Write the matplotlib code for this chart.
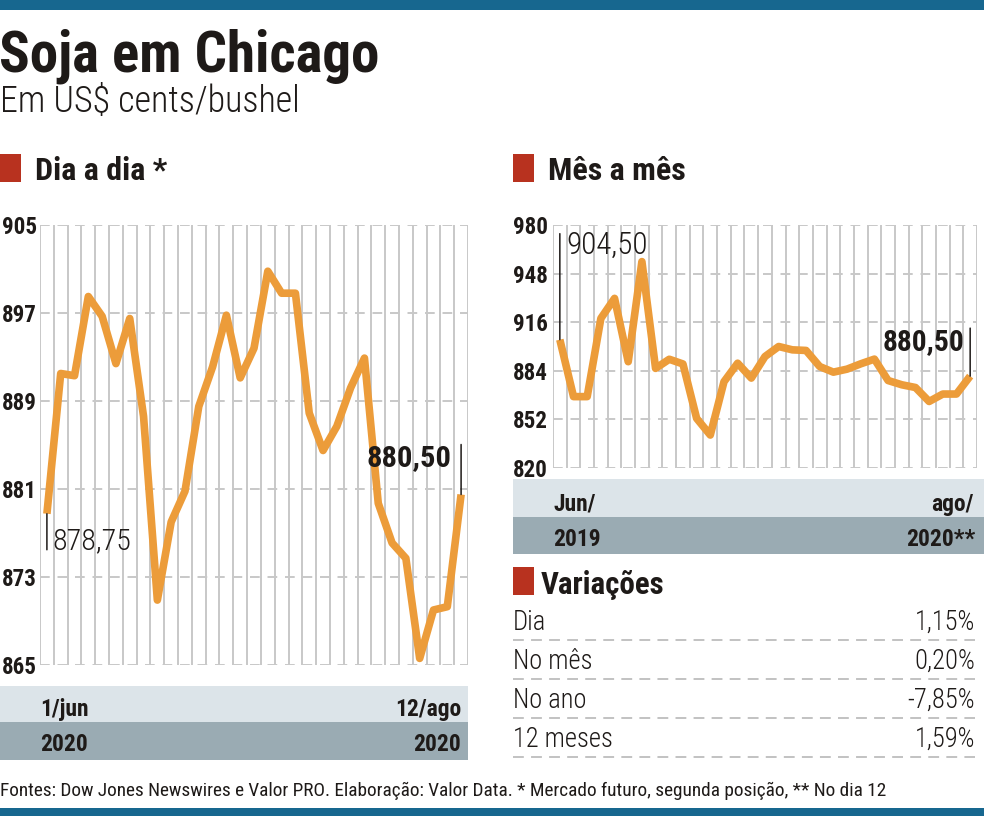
import os
import matplotlib
matplotlib.use("Agg")
import matplotlib.pyplot as plt
from matplotlib import font_manager as fm
from matplotlib.patches import Rectangle

# data
dia_a_dia = [878.75, 891.5, 891.3, 898.5, 896.7, 892.4, 896.5, 887.6, 870.9, 878.0,
             880.8, 888.5, 892.1, 896.8, 891.1, 893.8, 900.8, 898.8, 898.8, 887.9,
             884.5, 886.7, 890.2, 892.9, 879.7, 876.1, 874.7, 865.6, 870.0, 870.3,
             880.5]
mes_a_mes = [904.5, 867.0, 867.0, 918.5, 931.7, 890.0, 955.9, 885.6, 891.6, 888.5,
             852.7, 841.7, 876.8, 889.0, 879.2, 893.4, 900.0, 897.8, 897.4, 886.8,
             883.1, 885.1, 888.6, 891.7, 877.6, 874.8, 873.0, 863.8, 868.7, 868.7,
             880.5]
dia_ticks = [865, 873, 881, 889, 897, 905]
mes_ticks = [820, 852, 884, 916, 948, 980]
dia_band = ["1/jun", "12/ago", "2020", "2020"]
mes_band = ["Jun/", "ago/", "2019", "2020**"]
var_labels = ["Dia", "No mês", "No ano", "12 meses"]
var_values = ["1,15%", "0,20%", "-7,85%", "1,59%"]

W, H = 984, 816
ORANGE = "#ec9c3a"
GRID = "#c8c8c8"
TXT = "#1e1a18"
RED = "#b8321f"
BLUE = "#17678f"
LIGHT = "#dce4e9"
DARK = "#9aabb3"


# ---- fonts: look for a condensed family, fall back to Roboto
def _w(x):
    names = {'ultralight': 200, 'light': 300, 'normal': 400, 'regular': 400, 'book': 400,
             'medium': 500, 'semibold': 600, 'demibold': 600, 'bold': 700,
             'heavy': 800, 'extra bold': 800, 'black': 900}
    if isinstance(x, (int, float)):
        return int(x)
    return names.get(str(x).lower(), 400)


cond = []
for f in fm.fontManager.ttflist:
    base = os.path.basename(f.fname).lower().replace('-', '').replace('_', '')
    if f.style != 'normal':
        continue
    if any(k in base for k in ('semi', 'extra', 'ultra', 'mono', 'italic', 'oblique', 'display')):
        continue
    if 'condensed' in base or 'narrow' in base:
        cond.append((base, f))

prefer = ['robotocondensed', 'notosans', 'opensans', 'liberationsansnarrow', 'dejavusans']


def pick(weight):
    for p in prefer:
        fs = [f for b, f in cond if b.startswith(p)]
        if fs:
            best = min(fs, key=lambda f: abs(_w(f.weight) - weight))
            return fm.FontProperties(fname=best.fname)
    return fm.FontProperties(family=['Roboto', 'DejaVu Sans'], weight=weight)


F_LIGHT = pick(300)
F_REG = pick(400)
F_BOLD = pick(700)
F_BLACK = pick(900)


def pt(px):
    return px * 0.72


fig = plt.figure(figsize=(W / 100, H / 100), dpi=100)
fig.patch.set_facecolor("white")

# background layer in pixel coordinates
bg = fig.add_axes([0, 0, 1, 1])
bg.set_xlim(0, W)
bg.set_ylim(H, 0)
bg.axis("off")

bg.add_patch(Rectangle((0, 0), W, 10, color=BLUE, lw=0))
bg.add_patch(Rectangle((0, 808), W, 8, color=BLUE, lw=0))

bg.text(-1, 72, "Soja em Chicago", fontproperties=F_BLACK, fontsize=pt(57), color=TXT, va="baseline")
bg.text(0, 112, "Em US$ cents/bushel", fontproperties=F_LIGHT, fontsize=pt(36), color=TXT, va="baseline")

# section headers
bg.add_patch(Rectangle((0, 154), 21, 28, color=RED, lw=0))
bg.text(35, 180, "Dia a dia *", fontproperties=F_BOLD, fontsize=pt(32), color=TXT, va="baseline")
bg.add_patch(Rectangle((513, 154), 21, 28, color=RED, lw=0))
bg.text(548, 180, "Mês a mês", fontproperties=F_BOLD, fontsize=pt(32), color=TXT, va="baseline")

# date bands
bg.add_patch(Rectangle((0, 686), 468, 36, color=LIGHT, lw=0))
bg.add_patch(Rectangle((0, 722), 468, 38, color=DARK, lw=0))
bg.text(40, 716, dia_band[0], fontproperties=F_BOLD, fontsize=pt(23.5), color=TXT, va="baseline")
bg.text(461, 716, dia_band[1], fontproperties=F_BOLD, fontsize=pt(23.5), color=TXT, va="baseline", ha="right")
bg.text(40, 751, dia_band[2], fontproperties=F_BOLD, fontsize=pt(23.5), color=TXT, va="baseline")
bg.text(461, 751, dia_band[3], fontproperties=F_BOLD, fontsize=pt(23.5), color=TXT, va="baseline", ha="right")

bg.add_patch(Rectangle((513, 479), W - 513, 38, color=LIGHT, lw=0))
bg.add_patch(Rectangle((513, 517), W - 513, 37, color=DARK, lw=0))
bg.text(553, 511, mes_band[0], fontproperties=F_BOLD, fontsize=pt(23.5), color=TXT, va="baseline")
bg.text(973, 511, mes_band[1], fontproperties=F_BOLD, fontsize=pt(23.5), color=TXT, va="baseline", ha="right")
bg.text(553, 546, mes_band[2], fontproperties=F_BOLD, fontsize=pt(23.5), color=TXT, va="baseline")
bg.text(975, 546, mes_band[3], fontproperties=F_BOLD, fontsize=pt(23.5), color=TXT, va="baseline", ha="right")

# variações table
bg.add_patch(Rectangle((513, 567), 21, 28, color=RED, lw=0))
bg.text(541, 594, "Variações", fontproperties=F_BOLD, fontsize=pt(31), color=TXT, va="baseline")
row_y = 630
for lab, val in zip(var_labels, var_values):
    bg.text(513, row_y, lab, fontproperties=F_LIGHT, fontsize=pt(26.5), color=TXT, va="baseline")
    bg.text(975, row_y, val, fontproperties=F_LIGHT, fontsize=pt(26.5), color=TXT, va="baseline", ha="right")
    bg.plot([513, 975], [row_y + 10, row_y + 10], color="#bdbdbd", lw=1.3, ls=(0, (6, 4)))
    row_y += 39

bg.text(0, 796, "Fontes: Dow Jones Newswires e Valor PRO. Elaboração: Valor Data. "
        "* Mercado futuro, segunda posição, ** No dia 12",
        fontproperties=F_REG, fontsize=pt(19.3), color=TXT, va="baseline")


def chart(x0, x1, y0, y1, values, ticks, pad_px):
    ax = fig.add_axes([x0 / W, 1 - y1 / H, (x1 - x0) / W, (y1 - y0) / H])
    ax.patch.set_alpha(0)
    n = len(values)
    ax.set_xlim(-0.5, n - 0.5)
    ax.set_ylim(ticks[0], ticks[-1])
    for s in ax.spines.values():
        s.set_visible(False)
    ax.vlines([i - 0.5 for i in range(n + 1)], ticks[0], ticks[-1], color=GRID, lw=1.4, zorder=1)
    ax.hlines(ticks, -0.5, n - 0.5, color=GRID, lw=1.4, linestyles=(0, (5, 4)), zorder=1)
    ax.plot(range(n), values, color=ORANGE, lw=5.5, solid_joinstyle="round",
            solid_capstyle="butt", clip_on=False, zorder=3)
    ax.set_xticks([])
    ax.set_yticks(ticks)
    ax.set_yticklabels([str(t) for t in ticks])
    ax.tick_params(axis="y", length=0, pad=pt(pad_px))
    for lb in ax.get_yticklabels():
        lb.set_fontproperties(F_BOLD)
        lb.set_fontsize(pt(23))
        lb.set_color(TXT)
        lb.set_horizontalalignment("left")
    return ax


def mark(ax, i, v, line_px, txt, tx, ty, fp, size, ha):
    ax.annotate("", xy=(i, v), xytext=(0, line_px), textcoords="offset pixels",
                arrowprops=dict(arrowstyle="-", color=TXT, lw=1.1, shrinkA=0, shrinkB=0),
                annotation_clip=False, zorder=4)
    ax.annotate(txt, xy=(i, v), xytext=(tx, ty), textcoords="offset pixels",
                fontproperties=fp, fontsize=pt(size), color=TXT, ha=ha, va="baseline",
                annotation_clip=False, zorder=4)


ax1 = chart(40, 468, 225, 665, dia_a_dia, dia_ticks, 38)
mark(ax1, 0, dia_a_dia[0], -36, "878,75", 5, -36, F_LIGHT, 30, "left")
mark(ax1, len(dia_a_dia) - 1, dia_a_dia[-1], 50, "880,50", -10, 28, F_BOLD, 30.5, "right")

ax2 = chart(553, 977, 225, 468, mes_a_mes, mes_ticks, 40)
mark(ax2, 0, mes_a_mes[0], 106, "904,50", 7, 86, F_LIGHT, 31, "left")
mark(ax2, len(mes_a_mes) - 1, mes_a_mes[-1], 48, "880,50", -6, 26, F_BOLD, 29.5, "right")

fig.savefig("out.png", dpi=100, facecolor="white")
